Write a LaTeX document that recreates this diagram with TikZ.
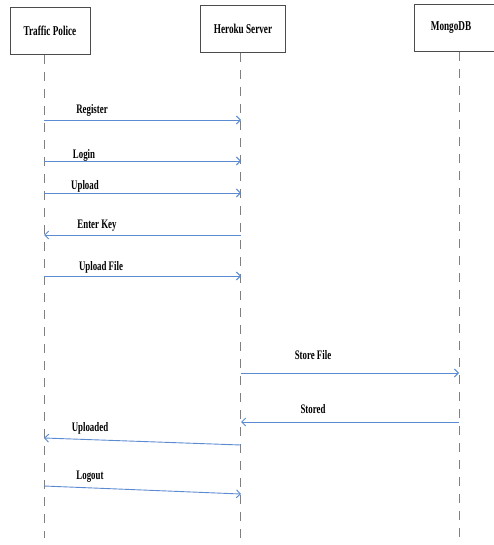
\documentclass[tikz,border=0pt]{standalone}
\usepackage{fontspec}
\setmainfont{Liberation Serif}[FakeStretch=0.68]
\usetikzlibrary{arrows.meta, positioning}
\definecolor{msgc}{HTML}{5B8BD0}
\definecolor{linec}{HTML}{808080}
\tikzset{
  actor/.style={draw=black!70, fill=white, line width=0.8pt,
        minimum height=47pt, inner sep=0pt,
        font=\bfseries\fontsize{13.5}{15}\selectfont},
  lifeline/.style={linec, line width=0.9pt, dash pattern=on 9pt off 8pt},
  msg/.style={-{Straight Barb[length=4pt, width=8pt]}, msgc, line width=0.9pt},
  msglabel/.style={font=\bfseries\fontsize{13}{15}\selectfont, inner sep=0pt}
}

\begin{document}
\begin{tikzpicture}[x=1pt, y=-1pt]
        \useasboundingbox (0,0) rectangle (493,545);
        % lifelines
        \coordinate (tpT) at (44,55);  \coordinate (tpB) at (44,538);
        \coordinate (hsT) at (240,53); \coordinate (hsB) at (240,545);
        \coordinate (dbT) at (459,52); \coordinate (dbB) at (459,545);
        \draw[lifeline] (tpT) -- (tpB);
        \draw[lifeline] (hsT) -- (hsB);
        \draw[lifeline] (dbT) -- (dbB);
        \node[actor, minimum width=80pt] (tp) at (50,31) {Traffic Police};
        \node[actor, minimum width=85pt] (hs) at (243,29) {Heroku Server};
        \node[actor, minimum width=84pt] (db) at (456,28) {MongoDB\hspace*{10pt}};
        % message end points
        \foreach \m/\y in {reg/120, login/161, up/193, key/235, file/276,
                           store/373, stored/422} {
          \coordinate (tp-\m) at (44,\y);
          \coordinate (hs-\m) at (241,\y);
          \coordinate (db-\m) at (459,\y);
        }
        \coordinate (hs-done) at (241,445); \coordinate (tp-done) at (44,438);
        \coordinate (tp-out) at (44,486);   \coordinate (hs-out) at (241,494);
        % messages
        \draw[msg] (tp-reg) -- (hs-reg);
        \draw[msg] (tp-login) -- (hs-login);
        \draw[msg] (tp-up) -- (hs-up);
        \draw[msg] (hs-key) -- (tp-key);
        \draw[msg] (tp-file) -- (hs-file);
        \draw[msg] (hs-store) -- (db-store);
        \draw[msg] (db-stored) -- (hs-stored);
        \draw[msg] (hs-done) -- (tp-done);
        \draw[msg] (tp-out) -- (hs-out);
        % labels
        \node[msglabel] (lreg) at (92,110) {Register};
        \node[msglabel] (llogin) at (84,155) {Login};
        \node[msglabel] (lup) at (85,186) {Upload};
        \node[msglabel] (lkey) at (97,226) {Enter Key};
        \node[msglabel] (lfile) at (101,267) {Upload File};
        \node[msglabel] (lstore) at (313,355) {Store File};
        \node[msglabel] (lstored) at (313,409) {Stored};
        \node[msglabel] (ldone) at (90,428) {Uploaded};
        \node[msglabel] (lout) at (90,477) {Logout};
      \end{tikzpicture}
\end{document}
